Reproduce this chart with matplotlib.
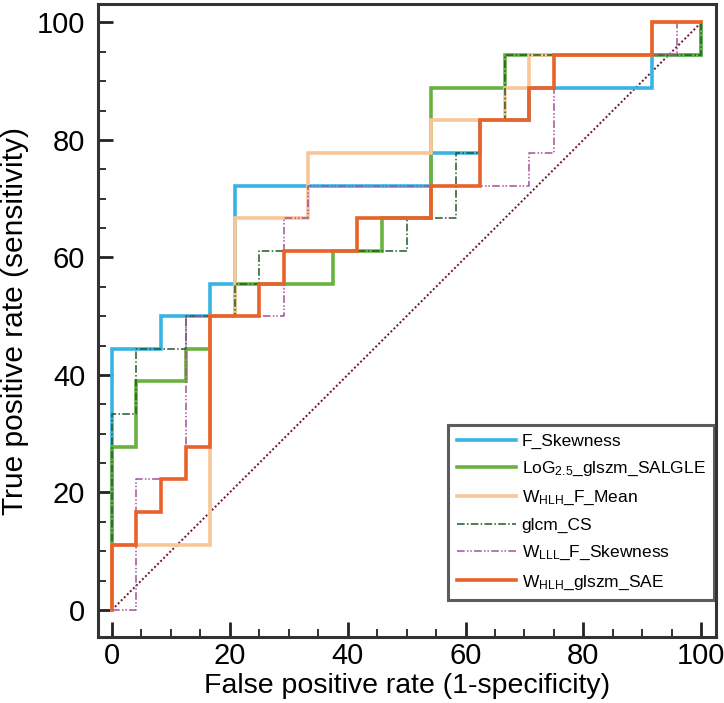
import matplotlib
matplotlib.use("Agg")
import matplotlib.pyplot as plt
import numpy as np

plt.rcParams['font.family'] = ['Liberation Sans', 'DejaVu Sans']
plt.rcParams['mathtext.fontset'] = 'custom'
plt.rcParams['mathtext.rm'] = 'Liberation Sans'
plt.rcParams['mathtext.default'] = 'regular'

# ROC step curves as counts: 24 negatives (FP) and 18 positives (TP)
N_NEG = 24
N_POS = 18

labels = ['F_Skewness', r'LoG$_{2.5}$_glszm_SALGLE', r'W$_{HLH}$_F_Mean',
          'glcm_CS', r'W$_{LLL}$_F_Skewness', r'W$_{HLH}$_glszm_SAE']

f_skew_fp = [0, 0, 2, 2, 4, 4, 5, 5, 13, 13, 15, 15, 17, 17, 18, 18, 22, 22, 24, 24]
f_skew_tp = [0, 8, 8, 9, 9, 10, 10, 13, 13, 14, 14, 15, 15, 16, 16, 16, 16, 17, 17, 18]

log_fp = [0, 0, 1, 1, 3, 3, 4, 4, 5, 5, 9, 9, 11, 11, 13, 13, 16, 16, 24, 24]
log_tp = [0, 5, 5, 7, 7, 8, 8, 9, 9, 10, 10, 11, 11, 12, 12, 16, 16, 17, 17, 18]

mean_fp = [0, 0, 4, 4, 5, 5, 8, 8, 13, 13, 16, 16, 17, 17, 22, 22, 24]
mean_tp = [0, 2, 2, 9, 9, 12, 12, 14, 14, 15, 15, 16, 16, 17, 17, 18, 18]

glcm_fp = [0, 0, 1, 1, 3, 3, 5, 5, 6, 6, 12, 12, 14, 14, 15, 15, 16, 16, 24, 24]
glcm_tp = [0, 6, 6, 8, 8, 9, 9, 10, 10, 11, 11, 12, 12, 14, 14, 15, 15, 17, 17, 18]

lll_fp = [0, 1, 1, 3, 3, 7, 7, 8, 8, 17, 17, 18, 18, 23, 23, 24]
lll_tp = [0, 0, 4, 4, 9, 9, 12, 12, 13, 13, 14, 14, 17, 17, 18, 18]

sae_fp = [0, 0, 1, 1, 2, 2, 3, 3, 4, 4, 6, 6, 7, 7, 10, 10, 13, 13, 15, 15,
          17, 17, 18, 18, 22, 22, 24]
sae_tp = [0, 2, 2, 3, 3, 4, 4, 5, 5, 9, 9, 10, 10, 11, 11, 12, 12, 13, 13, 15,
          15, 16, 16, 17, 17, 18, 18]

curves = [(f_skew_fp, f_skew_tp), (log_fp, log_tp), (mean_fp, mean_tp),
          (glcm_fp, glcm_tp), (lll_fp, lll_tp), (sae_fp, sae_tp)]
colors = ['#38b4e4', '#6ab23e', '#f7c797', '#1d5a27', '#a3509a', '#e8622a']
widths = [2.6, 2.6, 2.6, 1.1, 1.1, 2.6]
dashes = [None, None, None, (5, 1.5, 1, 1.5), (5, 1.5, 1, 1.2, 1, 1.5), None]

fig = plt.figure(figsize=(7.24, 7.03), dpi=100)
ax = fig.add_axes([0.135, 0.094, 0.854, 0.9])

# chance line
ax.plot([0, 100], [0, 100], linestyle=(0, (1, 1.2)), color='#6e1428', lw=1.4)

for (fp, tp), lab, c, w, d in zip(curves, labels, colors, widths, dashes):
    x = np.array(fp) / N_NEG * 100
    y = np.array(tp) / N_POS * 100
    line, = ax.plot(x, y, color=c, lw=w, label=lab, solid_joinstyle='miter')
    if d is not None:
        line.set_dashes(d)

ax.set_xlim(-2.4, 102.5)
ax.set_ylim(-4.6, 103.1)
ax.set_xticks(np.arange(0, 101, 20))
ax.set_yticks(np.arange(0, 101, 20))
ax.set_xticks(np.arange(0, 101, 5), minor=True)
ax.set_yticks(np.arange(0, 101, 5), minor=True)
ax.tick_params(which='major', direction='in', length=11, width=2, labelsize=21,
               color='#222222')
ax.tick_params(axis='x', which='major', pad=4)
ax.tick_params(axis='y', which='major', pad=9)
ax.tick_params(which='minor', direction='in', length=6, width=1.3, color='#222222')
for s in ax.spines.values():
    s.set_linewidth(2.2)
    s.set_color('#333333')

ax.set_xlabel('False positive rate (1-specificity)', fontsize=20.5, labelpad=2)
ax.set_ylabel('True positive rate (sensitivity)', fontsize=21.5, labelpad=6)

leg = ax.legend(loc='lower right', bbox_to_anchor=(0.997, 0.058), borderaxespad=0,
                fontsize=12.5, handlelength=3.4, handletextpad=0.35,
                labelspacing=0.62, borderpad=0.5, fancybox=False, frameon=True)
leg.get_frame().set_edgecolor('#333333')
leg.get_frame().set_linewidth(2.2)

fig.savefig('out.png', dpi=100)
